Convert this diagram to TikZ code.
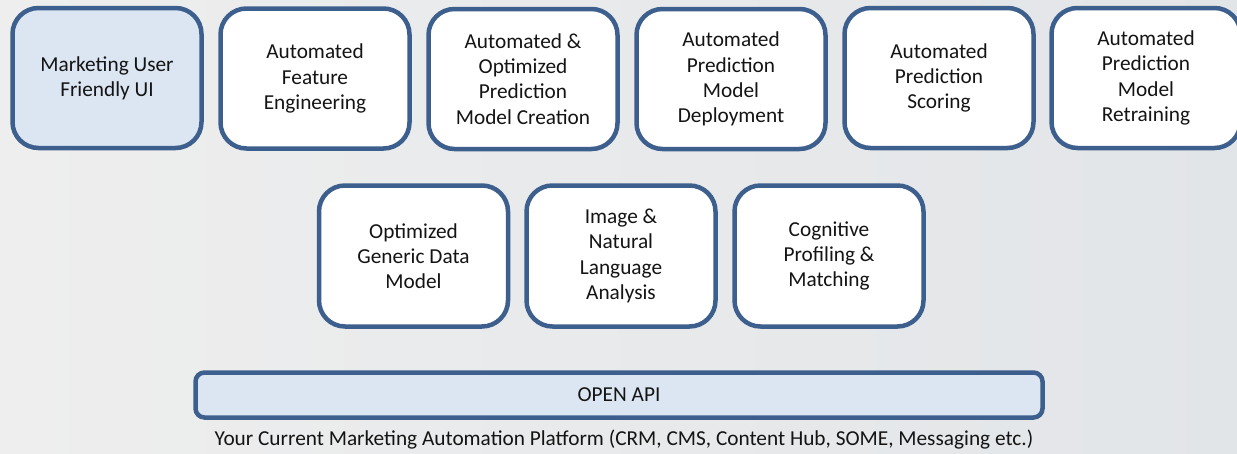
\documentclass[tikz,border=0pt]{standalone}
\usepackage{fontspec}
\setmainfont{Carlito}
\definecolor{frameblue}{RGB}{60,95,141}
\definecolor{lightfill}{RGB}{220,230,242}
\definecolor{bgleft}{RGB}{238,238,238}
\definecolor{bgright}{RGB}{226,229,232}
\definecolor{inkcol}{RGB}{20,20,20}
\tikzset{
  tile/.style={draw=frameblue, line width=4.5pt, rounded corners=26pt, fill=white,
    minimum width=189pt, minimum height=140pt, align=center, text=inkcol,
    font=\fontsize{21.3}{25.3}\selectfont, inner sep=0pt},
  bar/.style={draw=frameblue, line width=4.5pt, rounded corners=9pt, fill=lightfill,
    minimum width=847pt, minimum height=45pt, text=inkcol,
    font=\fontsize{21.3}{25}\selectfont, inner sep=0pt},
  caption/.style={text=inkcol, font=\fontsize{21.3}{25}\selectfont, inner sep=0pt}
}
\begin{document}
\begin{tikzpicture}[x=1pt, y=-1pt]
  \useasboundingbox (0,0) rectangle (1237,453);
  \begin{scope}
    \clip (0,0) rectangle (1237,453);
    % backdrop
    \shade[left color=bgleft, right color=bgright] (0,0) rectangle (1237,453);
    % top row of capabilities
    \node[tile, fill=lightfill] (ui) at (107,78) {Marketing User\\Friendly UI};
    \node[tile] (feat) at (315,78.5) {Automated\\Feature\\Engineering};
    \node[tile] (create) at (523,79) {Automated \&\\Optimized\\Prediction\\Model Creation};
    \node[tile] (deploy) at (731,79) {Automated\\Prediction\\Model\\Deployment};
    \node[tile] (score) at (939,78) {Automated\\Prediction\\Scoring};
    \node[tile] (retrain) at (1146,78) {Automated\\Prediction\\Model\\Retraining};
    % middle row
    \node[tile, minimum height=141pt] (datamodel) at (413.5,256) {Optimized\\Generic Data\\Model};
    \node[tile, minimum height=141pt] (nlp) at (621,256) {Image \&\\Natural\\Language\\Analysis};
    \node[tile, minimum height=141pt] (cognitive) at (829,256) {Cognitive\\Profiling \&\\Matching};
    % integration layer
    \node[bar] (api) at (619,395) {OPEN API};
    \node[caption] (platform) at (624,440) {Your Current Marketing Automation Platform (CRM, CMS, Content Hub, SOME, Messaging etc.)};
  \end{scope}
\end{tikzpicture}
\end{document}
